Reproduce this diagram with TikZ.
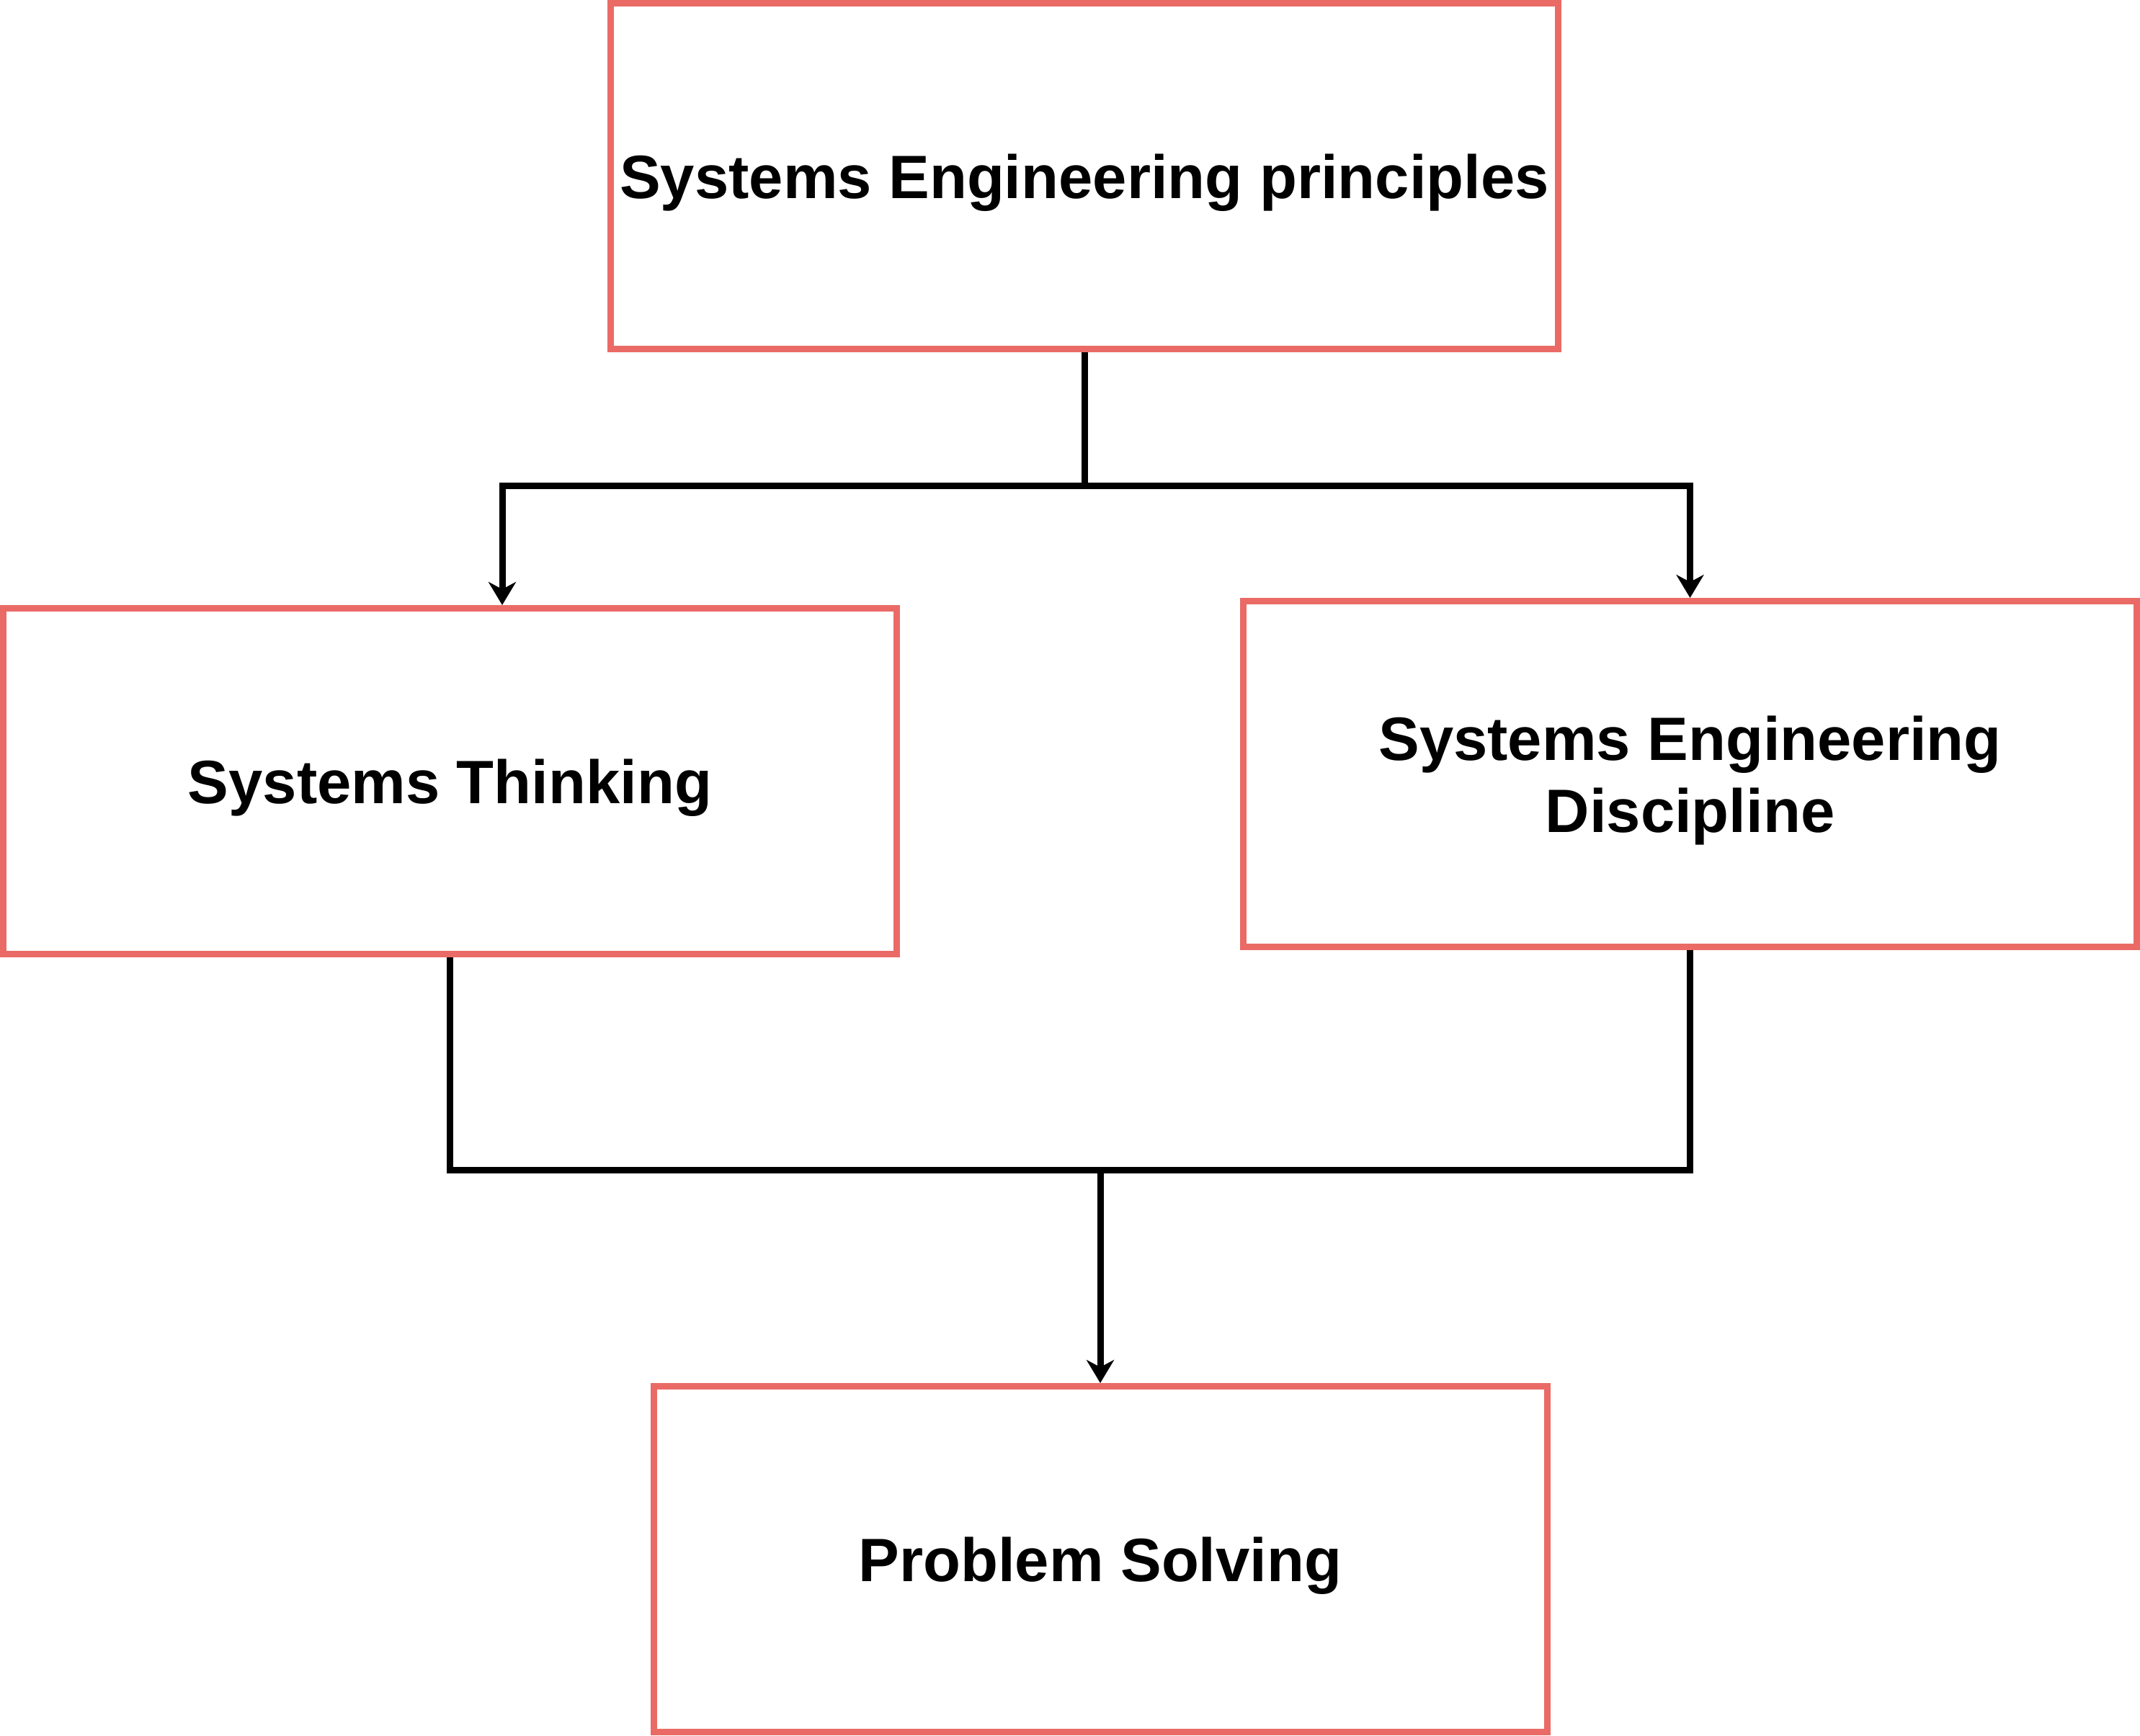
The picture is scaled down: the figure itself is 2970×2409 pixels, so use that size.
\documentclass[tikz,border=0pt]{standalone}
\usepackage{fontspec}
\setmainfont{Liberation Sans}
\usetikzlibrary{arrows.meta}
\definecolor{boxred}{RGB}{234,107,102}
\begin{document}
\begin{tikzpicture}[x=1pt,y=-1pt,
  box/.style={draw=boxred, line width=9pt, fill=white, rectangle,
    minimum width=1240pt, minimum height=480pt, inner sep=0pt, align=center,
    text depth=0pt, font=\fontsize{85}{100}\selectfont\bfseries},
  conn/.style={draw=black, line width=9pt},
  tip/.style={-{Stealth[length=32pt,width=38pt,inset=10pt]}}]
\useasboundingbox (0,0) rectangle (2970,2409);
\node[box, minimum width=1315pt] (top) at (1505,244.5) {Systems Engineering principles};
\node[box] (left) at (624.5,1084.5) {Systems Thinking};
\node[box] (right) at (2345.5,1074.5) {Systems Engineering\\Discipline};
\node[box] (bottom) at (1527,2164.5) {Problem Solving};
\coordinate (split) at (1505,674.5);
\coordinate (merge) at (1527,1624.5);
\draw[conn] (top.south) -- (split);
\draw[conn, tip] (split) -| ([xshift=72.5pt]left.north);
\draw[conn, tip] (split) -| (right.north);
\draw[conn] (left.south) |- (merge);
\draw[conn] (right.south) |- (merge);
\draw[conn, tip] (merge) -- (bottom.north);
\end{tikzpicture}
\end{document}
